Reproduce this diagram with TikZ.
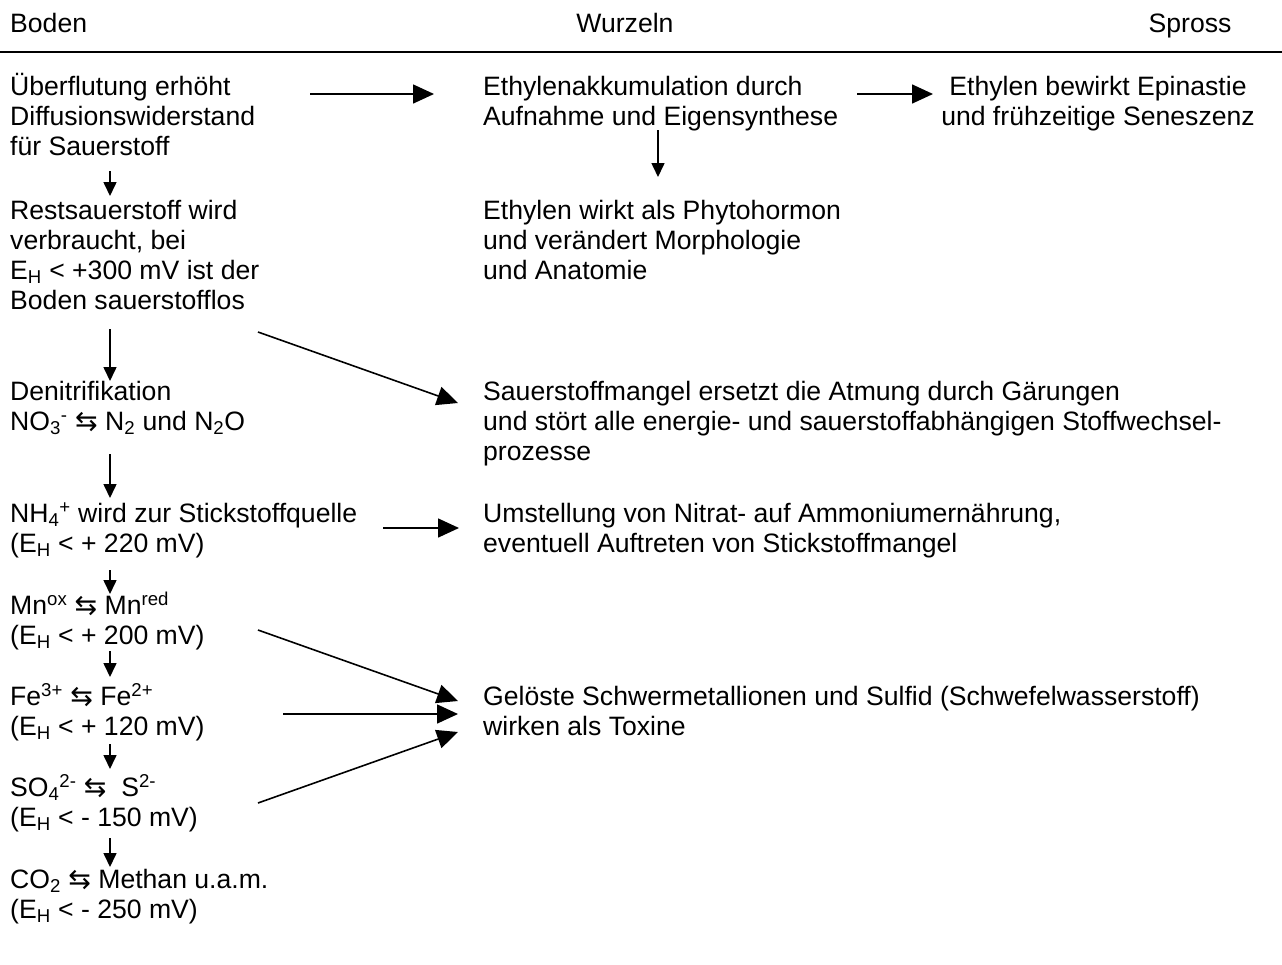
\documentclass[tikz,border=0pt]{standalone}
\usepackage{fontspec}
\setmainfont{Liberation Sans}
\newfontfamily\dvsfont{DejaVu Sans}
\usetikzlibrary{arrows.meta}
\newcommand{\eqarr}{{\dvsfont\fontsize{27}{30}\selectfont ⇆}}
\newcommand{\EH}{E\textsubscript{H}}
\newcommand{\tstrut}{\rule{0pt}{24pt}}
\begin{document}
\begin{tikzpicture}[x=1pt,y=-1pt,
  txt/.style={anchor=north west, inner sep=0pt, align=left, font=\fontsize{26.6}{30}\selectfont},
  ctxt/.style={anchor=north, inner sep=0pt, align=center, font=\fontsize{26.6}{30}\selectfont},
  bigarr/.style={line width=1.6pt, -{Triangle[length=21pt,width=19pt]}},
  smallarr/.style={line width=1.6pt, -{Triangle[length=14pt,width=13pt]}},
  rulestyle/.style={line width=2pt}]
\useasboundingbox (0,0) rectangle (1282,964);

% header
\node[txt] (hBoden) at (10,8) {\tstrut Boden};
\node[ctxt] (hWurzeln) at (625,8) {\tstrut Wurzeln};
\node[ctxt] (hSpross) at (1190,8) {\tstrut Spross};
\coordinate (rl) at (0,52);
\coordinate (rr) at (1282,52);
\draw[rulestyle] (rl) -- (rr);

% left column
\node[txt] (b1) at (10,71) {\tstrut Überflutung erhöht\\Diffusionswiderstand\\für Sauerstoff};
\node[txt] (b2) at (10,195) {\tstrut Restsauerstoff wird\\verbraucht, bei\\\EH{} < +300 mV ist der\\Boden sauerstofflos};
\node[txt] (b3) at (10,376) {\tstrut Denitrifikation\\NO\textsubscript{3}\textsuperscript{-} \eqarr{} N\textsubscript{2} und N\textsubscript{2}O};
\node[txt] (b4) at (10,498) {\tstrut NH\textsubscript{4}\textsuperscript{+} wird zur Stickstoffquelle\\(\EH{} < + 220 mV)};
\node[txt] (b5) at (10,590) {\tstrut Mn\textsuperscript{ox} \eqarr{} Mn\textsuperscript{red}\\(\EH{} < + 200 mV)};
\node[txt] (b6) at (10,681) {\tstrut Fe\textsuperscript{3+} \eqarr{} Fe\textsuperscript{2+}\\(\EH{} < + 120 mV)};
\node[txt] (b7) at (10,772) {\tstrut SO\textsubscript{4}\textsuperscript{2-} \eqarr{}\ \ S\textsuperscript{2-}\\(\EH{} < - 150 mV)};
\node[txt] (b8) at (10,864) {\tstrut CO\textsubscript{2} \eqarr{} Methan u.a.m.\\(\EH{} < - 250 mV)};

% middle column
\node[txt] (w1) at (483,71) {\tstrut Ethylenakkumulation durch\\Aufnahme und Eigensynthese};
\node[txt] (w2) at (483,195) {\tstrut Ethylen wirkt als Phytohormon\\und verändert Morphologie\\und Anatomie};
\node[txt] (w3) at (483,376) {\tstrut Sauerstoffmangel ersetzt die Atmung durch Gärungen\\und stört alle energie- und sauerstoffabhängigen Stoffwechsel-\\prozesse};
\node[txt] (w4) at (483,498) {\tstrut Umstellung von Nitrat- auf Ammoniumernährung,\\eventuell Auftreten von Stickstoffmangel};
\node[txt] (w5) at (483,681) {\tstrut Gelöste Schwermetallionen und Sulfid (Schwefelwasserstoff)\\wirken als Toxine};

% right column
\node[ctxt] (s1) at (1098,71) {\tstrut Ethylen bewirkt Epinastie\\und frühzeitige Seneszenz};

% arrow end points
\coordinate (a1s) at (310,94);   \coordinate (a1e) at (434,94);
\coordinate (a2s) at (857,94);   \coordinate (a2e) at (933,94);
\coordinate (a3s) at (658,130);  \coordinate (a3e) at (658,177);
\coordinate (v1s) at (110,171);  \coordinate (v1e) at (110,196);
\coordinate (v2s) at (110,329);  \coordinate (v2e) at (110,381);
\coordinate (v3s) at (110,454);  \coordinate (v3e) at (110,498);
\coordinate (v4s) at (110,570);  \coordinate (v4e) at (110,594);
\coordinate (v5s) at (110,651);  \coordinate (v5e) at (110,677);
\coordinate (v6s) at (110,744);  \coordinate (v6e) at (110,769);
\coordinate (v7s) at (110,838);  \coordinate (v7e) at (110,867);
\coordinate (d1s) at (258,332);  \coordinate (d1e) at (458,403);
\coordinate (h4s) at (383,528);  \coordinate (h4e) at (459,528);
\coordinate (d5s) at (258,630);  \coordinate (d5e) at (458,701);
\coordinate (h6s) at (283,714);  \coordinate (h6e) at (458,714);
\coordinate (d7s) at (258,803);  \coordinate (d7e) at (458,732);

\draw[bigarr] (a1s) -- (a1e);
\draw[bigarr] (a2s) -- (a2e);
\draw[smallarr] (a3s) -- (a3e);
\draw[smallarr] (v1s) -- (v1e);
\draw[smallarr] (v2s) -- (v2e);
\draw[smallarr] (v3s) -- (v3e);
\draw[smallarr] (v4s) -- (v4e);
\draw[smallarr] (v5s) -- (v5e);
\draw[smallarr] (v6s) -- (v6e);
\draw[smallarr] (v7s) -- (v7e);
\draw[bigarr] (d1s) -- (d1e);
\draw[bigarr] (h4s) -- (h4e);
\draw[bigarr] (d5s) -- (d5e);
\draw[bigarr] (h6s) -- (h6e);
\draw[bigarr] (d7s) -- (d7e);
\end{tikzpicture}
\end{document}
